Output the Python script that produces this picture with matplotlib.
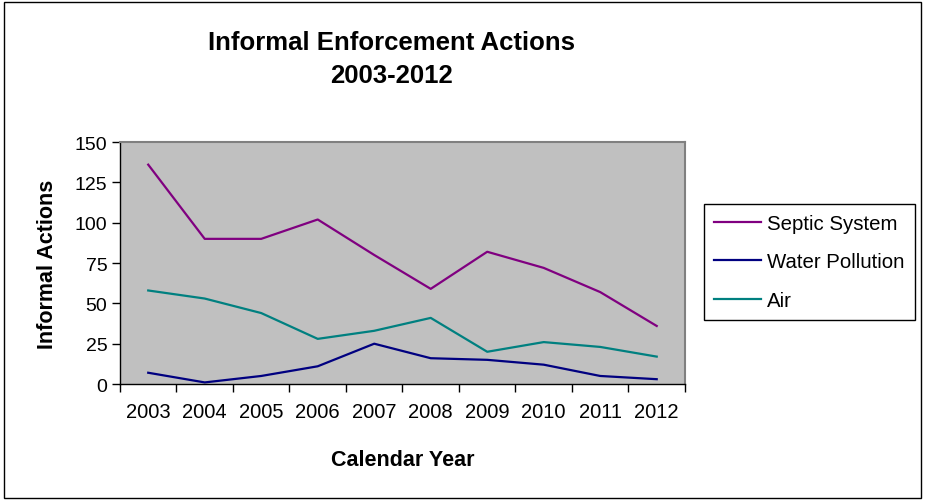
import numpy as np
import matplotlib.pyplot as plt

plt.rcParams['font.family'] = ['Liberation Sans', 'DejaVu Sans']

# Data
years = ['2003', '2004', '2005', '2006', '2007', '2008', '2009', '2010', '2011', '2012']
septic = [136, 90, 90, 102, 80, 59, 82, 72, 57, 36]
water = [7, 1, 5, 11, 25, 16, 15, 12, 5, 3]
air = [58, 53, 44, 28, 33, 41, 20, 26, 23, 17]

fig = plt.figure(figsize=(9.25, 5.02), dpi=100)
ax = fig.add_axes([0.1297, 0.233, 0.6108, 0.482])
ax.set_facecolor('#C0C0C0')

x = np.arange(len(years))
ax.plot(x, septic, color='#800080', linewidth=1.6, label='Septic System')
ax.plot(x, water, color='#000080', linewidth=1.6, label='Water Pollution')
ax.plot(x, air, color='#008080', linewidth=1.6, label='Air')

ax.set_xlim(-0.5, len(years) - 0.5)
ax.set_ylim(0, 150)
ax.set_yticks(np.arange(0, 151, 25))
ax.set_xticks(x)
ax.set_xticklabels(years)
ax.set_xticks(np.arange(-0.5, len(years)), minor=True)
ax.tick_params(axis='x', which='major', length=0, pad=13, labelsize=14.5)
ax.tick_params(axis='x', which='minor', length=6, width=1, direction='out')
ax.tick_params(axis='y', length=6, width=1, direction='out', labelsize=14, pad=3)

for side in ['top', 'right']:
    ax.spines[side].set_color('#808080')
    ax.spines[side].set_linewidth(1.5)
for side in ['left', 'bottom']:
    ax.spines[side].set_color('black')
    ax.spines[side].set_linewidth(1)

ax.set_xlabel('Calendar Year', fontsize=15.5, fontweight='bold', labelpad=20)
ax.set_ylabel('Informal Actions', fontsize=15.5, fontweight='bold', labelpad=12)

fig.text(0.423, 0.881, 'Informal Enforcement Actions\n2003-2012', ha='center', va='center',
         fontsize=18.5, fontweight='bold', linespacing=1.45)

leg = ax.legend(loc='center left', bbox_to_anchor=(1.033, 0.505), fontsize=14.7, frameon=True,
                fancybox=False, edgecolor='black', framealpha=1, handlelength=2.3,
                borderpad=0.5, labelspacing=0.95, handletextpad=0.3, borderaxespad=0)
leg.get_frame().set_linewidth(1)

# outer chart border
fig.patches.append(plt.Rectangle((0.004, 0.006), 0.992, 0.988, transform=fig.transFigure,
                                 fill=False, edgecolor='black', linewidth=1))

fig.savefig('out.png', dpi=100)
